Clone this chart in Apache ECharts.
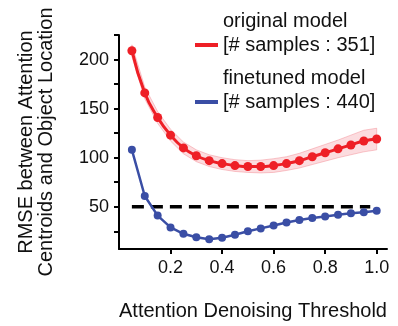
<!DOCTYPE html>
<html>
<head>
<meta charset="utf-8">
<script src="https://cdn.jsdelivr.net/npm/echarts@6/dist/echarts.min.js"></script>
<style>
  html, body { margin: 0; padding: 0; background: #fff; }
  #chart { width: 398px; height: 326px; }
</style>
</head>
<body>
<div id="chart"></div>
<script>
const thresholds = [0.05, 0.10, 0.15, 0.20, 0.25, 0.30, 0.35, 0.40, 0.45, 0.50,
                    0.55, 0.60, 0.65, 0.70, 0.75, 0.80, 0.85, 0.90, 0.95, 1.00]
const originalRmse = [209, 166, 141, 123, 110, 102, 97, 94, 92, 91,
                      91, 92, 94, 97, 101, 105, 109, 113, 117, 119]
const originalLow = [203, 160, 135, 117, 104, 96, 91, 88, 86, 85,
                     84.5, 85, 87, 89.5, 93, 96.5, 100, 103, 106, 108]
const originalHigh = [215, 172, 147, 129, 116, 108, 103, 100, 98, 97,
                      97.5, 99, 101, 104.5, 109, 113.5, 118, 123, 128, 130]
const finetunedRmse = [108, 61, 41, 29, 22.5, 19, 17, 18.5, 21.5, 25,
                       28, 31, 34, 36.5, 38.5, 40, 42, 43.5, 44.5, 46]
const baselineLine = [[0.05, 50], [0.975, 50]]
const xTickLabels = [0.2, 0.4, 0.6, 0.8, 1.0]
const yTickLabels = [50, 100, 150, 200]
const yTicks = [25, 50, 75, 100, 125, 150, 175, 200, 225]

const RED = '#ee1f26'
const BLUE = '#3a4ea5'
const FONT = "'Liberation Sans', Arial, sans-serif"

const chart = echarts.init(document.getElementById('chart'))

const pairs = arr => thresholds.map((x, i) => [x, arr[i]])

const legendBase = {
  orient: 'vertical',
  left: 195,
  padding: 0,
  itemWidth: 23,
  itemHeight: 4,
  itemGap: 5,
  icon: 'rect',
  textStyle: { fontFamily: FONT, fontSize: 20, color: '#111', lineHeight: 24 },
}

// shaded spread around the original model curve
const bandSeries = {
  name: 'band', type: 'custom', silent: true, z: 1,
  data: [0],
  renderItem: (params, api) => {
    const top = thresholds.map((x, i) => api.coord([x, originalHigh[i]]))
    const bottom = thresholds.map((x, i) => api.coord([x, originalLow[i]])).reverse()
    return {
      type: 'polygon',
      shape: { points: top.concat(bottom) },
      style: { fill: 'rgba(243,130,140,0.28)', stroke: 'rgba(240,120,130,0.4)', lineWidth: 1 },
    }
  },
}

chart.setOption({
  animation: false,
  grid: { left: 119, right: 11, top: 35, bottom: 77, containLabel: false },
  legend: [
    { ...legendBase, top: 9, data: ['original model'], formatter: n => n + '\n[# samples : 351]\n ' },
    { ...legendBase, top: 66, data: ['finetuned model'], formatter: n => n + '\n[# samples : 440]\n ' },
  ],
  xAxis: {
    type: 'value',
    min: 0,
    max: 1.04,
    name: 'Attention Denoising Threshold',
    nameLocation: 'middle',
    nameGap: 52,
    nameTextStyle: { fontFamily: FONT, fontSize: 20, color: '#111' },
    axisLine: { show: true, lineStyle: { color: '#000', width: 2 } },
    axisTick: { show: true, customValues: xTickLabels, length: 5, lineStyle: { color: '#000', width: 2 } },
    axisLabel: { customValues: xTickLabels, fontFamily: FONT, fontSize: 18, color: '#111', margin: 10,
      formatter: v => v.toFixed(1) },
    splitLine: { show: false },
  },
  yAxis: {
    type: 'value',
    min: 7,
    max: 225,
    name: 'RMSE between Attention\nCentroids and Object Location',
    nameLocation: 'middle',
    nameGap: 63,
    nameTextStyle: { fontFamily: FONT, fontSize: 20, color: '#111', lineHeight: 20 },
    axisLine: { show: true, lineStyle: { color: '#000', width: 2 } },
    axisTick: { show: true, customValues: yTicks, length: 5, lineStyle: { color: '#000', width: 2 } },
    axisLabel: { customValues: yTickLabels, fontFamily: FONT, fontSize: 18, color: '#111', margin: 10 },
    splitLine: { show: false },
  },
  series: [
    bandSeries,
    {
      name: 'baseline', type: 'line', data: baselineLine, symbol: 'none', z: 2,
      lineStyle: { color: '#000', width: 3.5, type: [12, 7] },
    },
    {
      name: 'original model', type: 'line', data: pairs(originalRmse), z: 3,
      color: RED, symbol: 'circle', symbolSize: 9, smooth: true,
      lineStyle: { color: RED, width: 3 }, itemStyle: { color: RED },
    },
    {
      name: 'finetuned model', type: 'line', data: pairs(finetunedRmse), z: 3,
      color: BLUE, symbol: 'circle', symbolSize: 8,
      lineStyle: { color: BLUE, width: 2.5 }, itemStyle: { color: BLUE },
    },
  ],
})
</script>
</body>
</html>
